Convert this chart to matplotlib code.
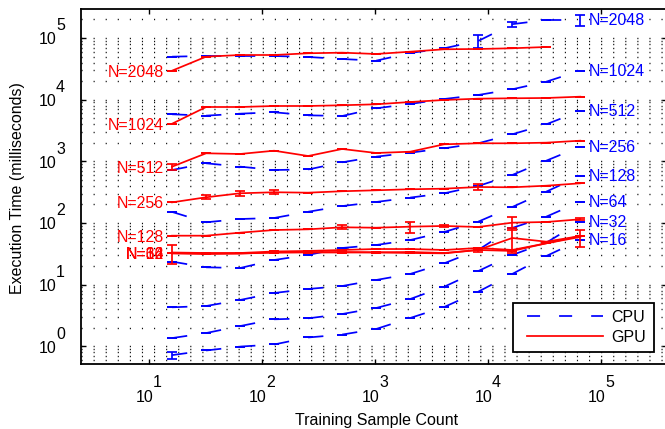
import matplotlib
matplotlib.use("Agg")
import matplotlib.pyplot as plt
from matplotlib.lines import Line2D
from matplotlib.legend_handler import HandlerLine2D
from matplotlib.transforms import offset_copy

plt.rcParams['font.family'] = ['Liberation Sans', 'DejaVu Sans']
plt.rcParams['lines.scale_dashes'] = False

# ---------------- data ----------------
sample_counts = [16, 32, 64, 128, 256, 512, 1024, 2048, 4096, 8192, 16384, 32768, 65536]
n_values = [2048, 1024, 512, 256, 128, 64, 32, 16]

# CPU execution time (ms)
cpu_n2048 = [49770, 51050, 51050, 51050, 49200, 45600, 42850, 57100, 68100, 89400, 167500, 195900, 195900]
cpu_n1024 = [5790, 5500, 5920, 6240, 5570, 5430, 7240, 8510, 10250, 11900, 14720, 19550, 29500]
cpu_n512 = [723, 929, 819, 723, 737, 964, 1189, 1380, 1626, 1960, 2742, 3980, 6550]
cpu_n256 = [151, 102.6, 116, 120.5, 152, 188, 219, 258, 303, 398, 600, 1023, 1726]
cpu_n128 = [23.6, 19.1, 18.6, 25.1, 30.3, 39.3, 43.9, 52.9, 71.4, 105, 181.5, 322, 578]
cpu_n64 = [4.29, 4.5, 5.64, 7.32, 8.5, 9.5, 11.9, 14.9, 22.2, 36.5, 83, 126.5, 221]
cpu_n32 = [1.36, 1.64, 2.13, 2.74, 2.84, 3.34, 4.18, 5.85, 9.26, 16.6, 30.3, 47.9, 103.7]
cpu_n16 = [0.72, 0.855, 0.99, 1.07, 1.39, 1.55, 1.91, 2.88, 4.34, 7.68, 14.9, 29.1, 52.9]

# GPU execution time (ms)
gpu_n2048 = [29500, 49770, 52960, 52960, 56500, 57800, 55000, 59950, 65600, 66300, 68100, 71450]
gpu_n1024 = [4070, 7600, 7600, 7890, 7890, 8110, 8410, 9160, 9880, 10370, 10520, 10640, 11170]
gpu_n512 = [819, 1349, 1315, 1486, 1219, 1585, 1364, 1432, 1888, 1960, 1960, 2005, 2160]
gpu_n256 = [216, 261, 303, 315, 310, 327, 339, 352, 360, 383, 379, 402, 440]
gpu_n128 = [62.2, 62.2, 69.6, 76.9, 78.9, 85.1, 83.8, 87.1, 89.4, 86.1, 101.1, 103.7, 114.8]
gpu_n64 = [33.2, 32.6, 32.6, 34.5, 35.2, 36.5, 37.8, 37.8, 36.5, 39.3, 36.5, 46.8, 61.5]
gpu_n32 = [32.6, 32.0, 32.0, 33.2, 33.8, 33.8, 33.5, 33.8, 32.6, 36.5, 57.1, 49.7, 61.5]
gpu_n16 = [32.0, 31.4, 32.0, 33.2, 33.2, 33.2, 33.2, 32.6, 32.2, 36.5, 35.2, 46.8, 59.3]

# error bar half-widths (ms)
cpu_err_n2048 = [0, 0, 0, 0, 0, 0, 0, 0, 0, 21000, 16000, 0, 37000]
cpu_err_n16 = [0.1, 0, 0, 0, 0, 0, 0, 0, 0, 0, 0, 0, 0]
gpu_err_n512 = [85, 0, 0, 0, 0, 0, 0, 0, 0, 0, 0, 0, 0]
gpu_err_n256 = [0, 20, 28, 25, 0, 0, 0, 0, 0, 45, 0, 0, 0]
gpu_err_n128 = [0, 0, 0, 0, 0, 6, 0, 18, 3, 0, 23, 0, 4]
gpu_err_n32 = [11, 0, 0, 0, 0, 0, 0, 0, 0, 3, 25, 0, 0]
gpu_err_n16 = [0, 0, 0, 0, 0, 0, 0, 0, 0, 0, 0, 0, 18]

x_ticks = [10, 100, 1000, 10000, 100000]
x_exps = ['1', '2', '3', '4', '5']
y_ticks = [1, 10, 100, 1000, 10000, 100000]
y_exps = ['0', '1', '2', '3', '4', '5']

cpu_series = [cpu_n2048, cpu_n1024, cpu_n512, cpu_n256, cpu_n128, cpu_n64, cpu_n32, cpu_n16]
gpu_series = [gpu_n2048, gpu_n1024, gpu_n512, gpu_n256, gpu_n128, gpu_n64, gpu_n32, gpu_n16]
cpu_errs = {2048: cpu_err_n2048, 16: cpu_err_n16}
gpu_errs = {512: gpu_err_n512, 256: gpu_err_n256, 128: gpu_err_n128,
            32: gpu_err_n32, 16: gpu_err_n16}

# ---------------- figure ----------------
W, H = 665, 429
fig = plt.figure(figsize=(W / 100, H / 100), dpi=100)
ax_l, ax_r, ax_t, ax_b = 81, 667, 9, 364
ax = fig.add_axes([ax_l / W, 1 - ax_b / H, (ax_r - ax_l) / W, (ax_b - ax_t) / H])
ax.set_xscale('log')
ax.set_yscale('log')
XLIM = (10 ** 0.398, 10 ** 5.584)
YLIM = (10 ** -0.287, 10 ** 5.470)

BLUE = (0, 0, 1)
RED = (1, 0, 0)
LW = 1.25
CAP = 3.25
seg_dash = (0, (11, 20))
FS = 11.5


def draw(values, color, errs, dashed):
    xs = sample_counts[:len(values)]
    if dashed:
        for i in range(len(xs) - 1):
            ax.plot(xs[i:i + 2], values[i:i + 2], color=color, lw=LW,
                    linestyle=seg_dash, dash_capstyle='butt')
    else:
        ax.plot(xs, values, color=color, lw=LW, solid_joinstyle='miter')
    e = errs if errs is not None else [0] * len(values)
    ax.errorbar(xs, values, yerr=e[:len(values)], fmt='none', ecolor=color,
                elinewidth=LW, capsize=CAP, capthick=LW)


for n, vals in zip(n_values, cpu_series):
    draw(vals, BLUE, cpu_errs.get(n), True)
for n, vals in zip(n_values, gpu_series):
    draw(vals, RED, gpu_errs.get(n), False)

# series labels
for n, vals in zip(n_values, gpu_series):
    ax.annotate('N=%d' % n, xy=(sample_counts[0], vals[0]), xytext=(-8, -6),
                textcoords='offset pixels', ha='right', va='baseline',
                color=RED, fontsize=FS)
for n, vals in zip(n_values, cpu_series):
    ax.annotate('N=%d' % n, xy=(sample_counts[len(vals) - 1], vals[-1]), xytext=(8, -5),
                textcoords='offset pixels', ha='left', va='baseline',
                color=BLUE, fontsize=FS)

# grid: dotted horizontal lines at major + minor decades
minor_y = [k * 10.0 ** e for e in range(-1, 6) for k in range(2, 10)]
ax.set_yticks(y_ticks)
ax.set_yticks(minor_y, minor=True)
ax.set_xticks(x_ticks)
ax.xaxis.set_minor_locator(matplotlib.ticker.NullLocator())
ax.set_xlim(*XLIM)
ax.set_ylim(*YLIM)
ax.grid(axis='y', which='both', linestyle=(0, (0.8, 7.9)), color='0.05', linewidth=1.0)
ax.set_axisbelow(True)

ax.tick_params(which='major', direction='in', length=3.5, width=1.0,
               top=True, right=True, labelbottom=False, labelleft=False)
ax.tick_params(which='minor', length=0, left=False, right=False)
for s in ax.spines.values():
    s.set_linewidth(1.3)
    s.set_color('black')

# MATLAB-style tick labels
for t, ex in zip(x_ticks, x_exps):
    tr1 = offset_copy(ax.get_xaxis_transform(), fig=fig, x=4, y=-38.3, units='dots')
    ax.text(t, 0, '10', transform=tr1, ha='right', va='baseline', fontsize=FS)
    tr2 = offset_copy(ax.get_xaxis_transform(), fig=fig, x=4, y=-22.7, units='dots')
    ax.text(t, 0, ex, transform=tr2, ha='left', va='baseline', fontsize=FS)
for t, ex in zip(y_ticks, y_exps):
    tr1 = offset_copy(ax.get_yaxis_transform(), fig=fig, x=-25, y=-6.5, units='dots')
    ax.text(0, t, '10', transform=tr1, ha='right', va='baseline', fontsize=FS)
    tr2 = offset_copy(ax.get_yaxis_transform(), fig=fig, x=-25, y=7.5, units='dots')
    ax.text(0, t, ex, transform=tr2, ha='left', va='baseline', fontsize=FS)

fig.text(376.5 / W, 1 - 425 / H, 'Training Sample Count', ha='center', va='baseline', fontsize=FS)
fig.text(17.5 / W, 1 - 188.5 / H, 'Execution Time (milliseconds)', ha='center', va='center',
         rotation=90, fontsize=FS)


# legend with MATLAB-like extra space left of the handle
class PadHandler(HandlerLine2D):
    def create_artists(self, legend, orig_handle, xdescent, ydescent, width, height,
                       fontsize, trans):
        pad = 0.09 * width
        return super().create_artists(legend, orig_handle, xdescent - pad, ydescent,
                                      width - pad, height, fontsize, trans)


handles = [Line2D([], [], color=BLUE, lw=LW, linestyle=(0, (9.4, 13.7))),
           Line2D([], [], color=RED, lw=LW)]
leg = ax.legend(handles, ['CPU', 'GPU'], loc='lower right',
                bbox_to_anchor=(0.977, 0.034), borderaxespad=0, fontsize=FS,
                handlelength=5.2, handletextpad=0.55, labelspacing=0.3,
                borderpad=0.45, fancybox=False, framealpha=1, edgecolor='black',
                handler_map={Line2D: PadHandler()})
leg.get_frame().set_linewidth(1.3)

fig.savefig('out.png', dpi=100)
